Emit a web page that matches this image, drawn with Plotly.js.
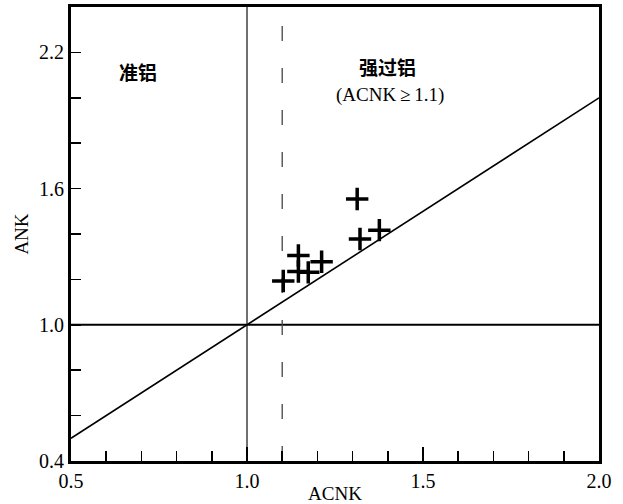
<!DOCTYPE html>
<html>
<head>
<meta charset="utf-8">
<script src="https://cdn.plot.ly/plotly-3.0.1.min.js"></script>
<style>html,body{margin:0;padding:0;background:#fff;}#chart{width:623px;height:504px;}</style>
</head>
<body>
<div id="chart"></div>
<script>
// Sample data (ACNK vs ANK)
const acnk = [1.313, 1.376, 1.321, 1.146, 1.212, 1.146, 1.174, 1.103];
const ank  = [1.554, 1.417, 1.378, 1.305, 1.278, 1.235, 1.231, 1.193];

// Reference lines
const diagX = [0.5, 2.0];
const diagY = [0.5, 2.0];
const vLineX = [1.0, 1.0];
const vLineY = [0.4, 2.4];
const hLineX = [0.5, 2.0];
const hLineY = [1.0, 1.0];
const dashX = [1.1, 1.1];
const dashY = [0.4, 2.37];

// Labels
const labelTexts = ['准铝', '强过铝', '(ACNK\u2009≥\u20091.1)'];
const labelX = [0.69, 1.40, 1.406];
const labelY = [2.115, 2.137, 2.013];

const serif = 'Liberation Serif, Times New Roman, serif';
const cjk = 'Noto Sans CJK SC, sans-serif';

const traces = [
  {x: diagX, y: diagY, mode: 'lines', line: {color: '#000', width: 1.6}, hoverinfo: 'skip', showlegend: false},
  {x: vLineX, y: vLineY, mode: 'lines', line: {color: '#222', width: 1.3}, hoverinfo: 'skip', showlegend: false},
  {x: hLineX, y: hLineY, mode: 'lines', line: {color: '#000', width: 2}, hoverinfo: 'skip', showlegend: false},
  {x: dashX, y: dashY, mode: 'lines', line: {color: '#444', width: 1.3, dash: '15px,27px'}, hoverinfo: 'skip', showlegend: false},
  {x: acnk, y: ank, mode: 'markers', marker: {symbol: 'cross-thin', size: 16, line: {color: '#000', width: 3.5}}, showlegend: false}
];

const annotations = labelTexts.map((t, i) => ({
  x: labelX[i], y: labelY[i], xref: 'x', yref: 'y', text: t, showarrow: false,
  font: i === 2 ? {family: serif, size: 19, color: '#000'} : {family: cjk, size: 19, color: '#000', weight: 'bold'}
}));

const layout = {
  width: 623, height: 504,
  margin: {l: 71, r: 24, t: 7, b: 43},
  paper_bgcolor: '#fff', plot_bgcolor: '#fff',
  showlegend: false,
  xaxis: {
    range: [0.5, 2.0], tick0: 0.5, dtick: 0.5, tickformat: '.1f',
    ticks: 'inside', ticklen: 14, tickwidth: 1.5, tickcolor: '#000',
    showline: true, linewidth: 3, linecolor: '#000', mirror: true,
    showgrid: false, zeroline: false,
    minor: {dtick: 0.1, ticks: 'inside', ticklen: 10, tickwidth: 1.5, tickcolor: '#000', showgrid: false},
    tickfont: {family: serif, size: 20, color: '#000'},
    title: {text: 'ACNK', font: {family: serif, size: 19, color: '#000'}, standoff: 4}
  },
  yaxis: {
    range: [0.4, 2.4], tick0: 0.4, dtick: 0.6, tickformat: '.1f',
    ticks: 'inside', ticklen: 10, tickwidth: 1.5, tickcolor: '#000',
    showline: true, linewidth: 3, linecolor: '#000', mirror: true,
    showgrid: false, zeroline: false,
    minor: {dtick: 0.2, ticks: 'inside', ticklen: 10, tickwidth: 1.5, tickcolor: '#000', showgrid: false},
    tickfont: {family: serif, size: 20, color: '#000'},
    title: {text: 'ANK', font: {family: serif, size: 19, color: '#000'}, standoff: 6}
  },
  annotations: annotations
};

Plotly.newPlot('chart', traces, layout, {displayModeBar: false, staticPlot: true});
</script>
</body>
</html>
